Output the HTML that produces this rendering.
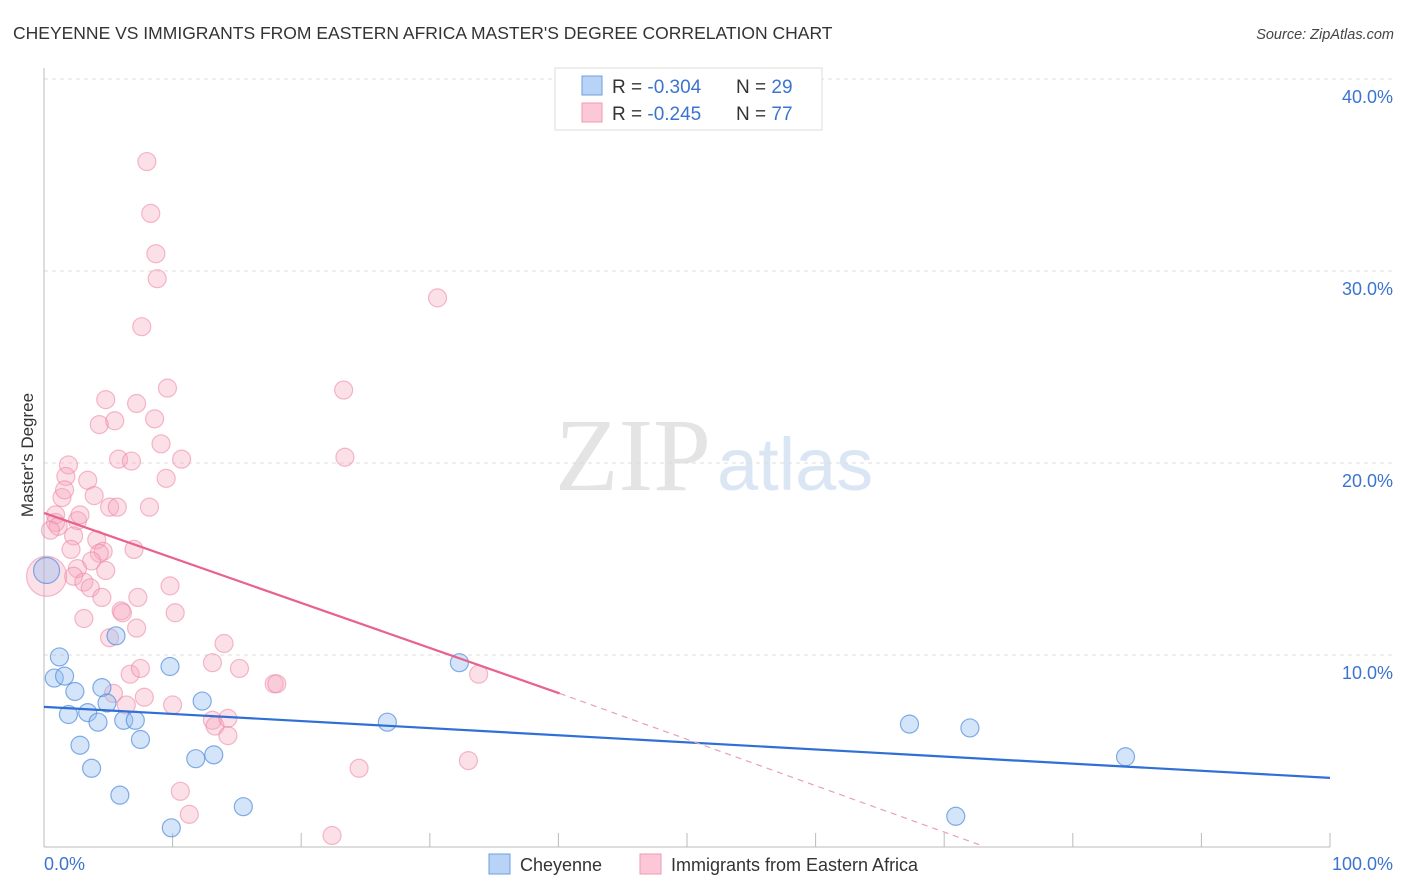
<!DOCTYPE html>
<html><head><meta charset="utf-8"><style>
body{margin:0;background:#fff;font-family:"Liberation Sans",sans-serif;}
svg{display:block}
</style></head><body>
<svg id="chart" width="1406" height="892" viewBox="0 0 1406 892" xmlns="http://www.w3.org/2000/svg">
<text x="13" y="39" font-size="17.5" fill="#333" font-family="Liberation Sans, sans-serif">CHEYENNE VS IMMIGRANTS FROM EASTERN AFRICA MASTER'S DEGREE CORRELATION CHART</text>
<text x="1394" y="39" font-size="14.5" fill="#444" text-anchor="end" font-style="italic">Source: ZipAtlas.com</text>
<g>
<text x="555" y="490" font-size="104" fill="#e4e4e4" font-family="Liberation Serif, serif">ZIP</text>
<text x="717" y="490" font-size="74" fill="#dbe6f5" font-family="Liberation Sans, sans-serif">atlas</text>
</g>
<g id="grid"></g>
<g id="axes"></g>
<g id="pts"></g>
<g id="trends"></g>
<text transform="translate(33,455) rotate(-90)" font-size="17" fill="#333" text-anchor="middle">Master's Degree</text>
<g>
<rect x="555" y="68" width="267" height="62" fill="#fff" stroke="#ddd"/>
<rect x="582" y="76" width="20" height="19" fill="#b8d3f5" stroke="#6a9fe0"/>
<rect x="582" y="103" width="20" height="19" fill="#fcc8d7" stroke="#ef9ab3"/>
<text x="612" y="93" font-size="19" fill="#333">R = <tspan fill="#3b74d0">-0.304</tspan><tspan x="736">N = </tspan><tspan fill="#3b74d0">29</tspan></text>
<text x="612" y="120" font-size="19" fill="#333">R = <tspan fill="#3b74d0"> -0.245</tspan><tspan x="736">N = </tspan><tspan fill="#3b74d0">77</tspan></text>
</g>
<g>
<rect x="489" y="854" width="21" height="20" fill="#b8d3f5" stroke="#6a9fe0"/>
<text x="520" y="871" font-size="18" fill="#333">Cheyenne</text>
<rect x="640" y="854" width="21" height="20" fill="#fcc8d7" stroke="#ef9ab3"/>
<text x="671" y="871" font-size="18" fill="#333">Immigrants from Eastern Africa</text>
</g>
</svg>
<script>
const xTickLabels=["0.0%","100.0%"];
const yTicks=[10,20,30,40];
const yTickLabels=["10.0%","20.0%","30.0%","40.0%"];
const blueX=[0.2,5.6,1.2,0.8,1.6,2.4,4.5,9.8,1.9,3.4,4.2,4.9,6.2,7.1,7.5,2.8,3.7,5.9,11.8,13.2,12.3,15.5,9.9,26.7,32.3,67.3,72.0,70.9,84.1];
const blueY=[14.4,11.0,9.9,8.8,8.9,8.1,8.3,9.4,6.9,7.0,6.5,7.5,6.6,6.6,5.6,5.3,4.1,2.7,4.6,4.8,7.6,2.1,1.0,6.5,9.6,6.4,6.2,1.6,4.7];
const pinkX=[8.0,8.3,8.7,8.8,7.6,30.6,9.6,23.3,4.8,7.2,8.6,4.3,5.5,9.1,5.8,6.8,10.7,23.4,1.9,1.7,3.4,9.5,1.4,3.9,8.2,5.1,5.7,0.9,0.9,2.6,1.1,0.5,2.3,4.1,2.1,4.6,4.3,7.0,3.7,2.6,2.3,3.1,3.6,4.5,7.3,6.0,10.2,3.1,5.1,14.0,7.2,9.8,13.1,15.2,6.7,5.4,7.8,10.0,17.9,18.1,13.1,13.3,14.3,14.3,24.5,33.0,10.6,11.3,22.4,33.8,7.5,2.8,1.6,4.8,6.4,6.1,0.2];
const pinkY=[35.7,33.0,30.9,29.6,27.1,28.6,23.9,23.8,23.3,23.1,22.3,22.0,22.2,21.0,20.2,20.1,20.2,20.3,19.9,19.3,19.1,19.2,18.2,18.3,17.7,17.7,17.7,17.3,16.9,17.0,16.7,16.5,16.2,16.0,15.5,15.4,15.3,15.5,14.9,14.5,14.1,13.8,13.5,13.0,13.0,12.3,12.2,11.9,10.9,10.6,11.4,13.6,9.6,9.3,9.0,8.0,7.8,7.4,8.5,8.5,6.6,6.3,6.7,5.8,4.1,4.5,2.9,1.7,0.6,9.0,9.3,17.3,18.6,14.4,7.4,12.2,14.1];
const blueTrend=[[0,7.3],[100,3.6]];
const pinkTrend=[[0,17.4],[40.1,8.0]];
const pinkDash=[[40.1,8.0],[72.8,0.1]];

const X0=44,X1=1330,Y0=847,PY=19.2;
const sx=v=>X0+(X1-X0)*v/100, sy=v=>Y0-PY*v;
const NS="http://www.w3.org/2000/svg";
function mk(tag,attrs,parent){const e=document.createElementNS(NS,tag);for(const k in attrs)e.setAttribute(k,attrs[k]);parent.appendChild(e);return e;}
const grid=document.getElementById('grid'),axes=document.getElementById('axes'),pts=document.getElementById('pts'),tr=document.getElementById('trends');
yTicks.forEach((t,i)=>{
 const l=mk('line',{x1:X0,x2:1393,y1:sy(t),y2:sy(t),stroke:'#ddd','stroke-dasharray':'4,4'},grid);
 
 
 const tx=mk('text',{x:1393,y:sy(t)+24,'font-size':18,fill:'#3b74d0','text-anchor':'end'},axes);
 tx.textContent=yTickLabels[i];
 
 
});
mk('line',{x1:X0,x2:1393,y1:sy(40)-0,y2:sy(40),stroke:'#ddd','stroke-dasharray':'4,4'},grid);
mk('line',{x1:X0,x2:X0,y1:68,y2:Y0,stroke:'#bbb'},axes);
mk('line',{x1:X0,x2:X1,y1:Y0,y2:Y0,stroke:'#bbb'},axes);
for(let i=1;i<=10;i++){mk('line',{x1:sx(i*10),x2:sx(i*10),y1:Y0-14,y2:Y0,stroke:'#bbb'},axes);}
const xl0=mk('text',{x:X0,y:870,'font-size':18,fill:'#3b74d0'},axes);xl0.textContent=xTickLabels[0];


const xl1=mk('text',{x:1393,y:870,'font-size':18,fill:'#3b74d0','text-anchor':'end'},axes);xl1.textContent=xTickLabels[1];


pinkX.forEach((v,i)=>{
 const c=mk('circle',{cx:sx(v),cy:sy(pinkY[i]),r:(i===pinkX.length-1)?20:9,fill:'rgba(245,165,190,0.35)',stroke:'rgba(236,130,162,0.55)','stroke-width':1.2},pts);
 
 
});
blueX.forEach((v,i)=>{
 const c=mk('circle',{cx:sx(v),cy:sy(blueY[i]),r:i===0?13:9,fill:'rgba(150,190,240,0.4)',stroke:'rgba(80,140,220,0.7)','stroke-width':1.2},pts);
 
 
});
const b=mk('line',{x1:sx(blueTrend[0][0]),y1:sy(blueTrend[0][1]),x2:sx(blueTrend[1][0]),y2:sy(blueTrend[1][1]),stroke:'#2f6fd6','stroke-width':2.2},tr);


const p=mk('line',{x1:sx(pinkTrend[0][0]),y1:sy(pinkTrend[0][1]),x2:sx(pinkTrend[1][0]),y2:sy(pinkTrend[1][1]),stroke:'#e8628f','stroke-width':2.2},tr);


const pd=mk('line',{x1:sx(pinkDash[0][0]),y1:sy(pinkDash[0][1]),x2:sx(pinkDash[1][0]),y2:sy(pinkDash[1][1]),stroke:'#e8a0b8','stroke-width':1.2,'stroke-dasharray':'6,5'},tr);


</script>
</body></html>
